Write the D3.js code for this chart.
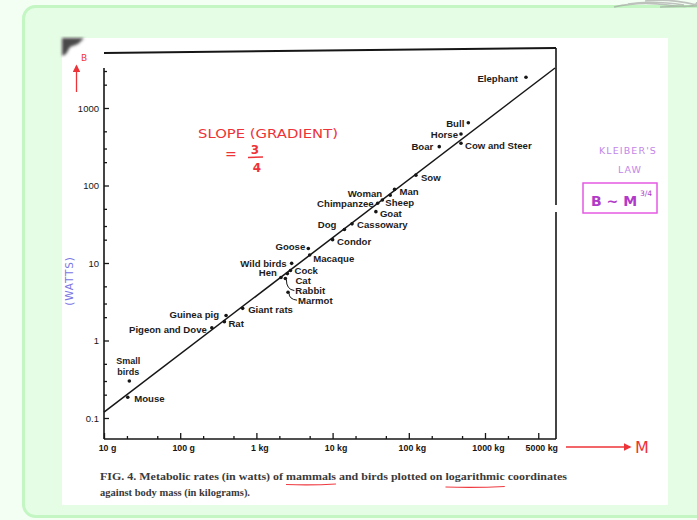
<!DOCTYPE html>
<html>
<head>
<meta charset="utf-8">
<script src="https://cdn.jsdelivr.net/npm/d3@7"></script>
<style>
  html, body { margin: 0; padding: 0; background: #f3fff3; }
  svg { display: block; }
</style>
</head>
<body>
<svg id="chart" width="697" height="520"></svg>
<script>
// Body mass (kg) and metabolic rate (W) for mammals and birds
const species = [
  "Elephant", "Bull", "Horse", "Cow and Steer", "Boar", "Sow", "Man", "Woman",
  "Sheep", "Chimpanzee", "Goat", "Cassowary", "Dog", "Condor", "Goose", "Macaque",
  "Wild birds", "Cock", "Cat", "Hen", "Rabbit", "Marmot", "Giant rats", "Guinea pig",
  "Rat", "Pigeon and Dove", "Small birds", "Mouse"
];
const massKg = [
  3450, 604, 484, 484, 251, 124, 65, 57,
  45, 39, 37, 18, 14.3, 10, 4.8, 5.0,
  2.9, 2.8, 2.55, 2.1, 2.4, 2.6, 0.66, 0.40,
  0.38, 0.26, 0.0215, 0.0205
];
const powerW = [
  2490, 646, 462, 351, 317, 136, 89, 75,
  65, 59, 46, 32, 27, 20, 15.4, 12.7,
  9.9, 8.0, 7.3, 6.5, 6.3, 4.2, 2.6, 2.1,
  1.75, 1.46, 0.30, 0.185
];

// Fitted line B ~ M^(3/4), two end points
const fitMass = [0.01, 8300];
const fitPower = [0.119, 3280];

// Axis ticks
const xTickValues = [0.01, 0.1, 1, 10, 100, 1000, 5000];
const xTickLabels = ["10 g", "100 g", "1 kg", "10 kg", "100 kg", "1000 kg", "5000 kg"];
const xMinorValues = [0.02, 0.05, 0.2, 0.5, 2, 5, 20, 50, 200, 500, 2000];
const yTickValues = [0.1, 1, 10, 100, 1000];
const yTickLabels = ["0.1", "1", "10", "100", "1000"];
const yMinorValues = [0.2, 0.3, 0.5, 2, 3, 5, 20, 30, 50, 200, 300, 500, 2000, 3000];

// Label placement: [anchor, dx, dy, leader]
const labelLayout = {
  "Elephant": ["end", -8, 1],
  "Bull": ["end", -4, 1],
  "Horse": ["end", -3, 0.5],
  "Cow and Steer": ["start", 4, 2],
  "Boar": ["end", -6, 0],
  "Sow": ["start", 5, 2],
  "Man": ["start", 5, 2],
  "Woman": ["end", -8, -2],
  "Sheep": ["start", 3, 2.3],
  "Chimpanzee": ["end", -4, 0],
  "Goat": ["start", 4, 2.2],
  "Cassowary": ["start", 5, 1],
  "Dog": ["end", -8, -5],
  "Condor": ["start", 4.5, 2],
  "Goose": ["end", -3, -1.5],
  "Macaque": ["start", 3.5, 3.5],
  "Wild birds": ["end", -5, 0],
  "Cock": ["start", 4, 0.5],
  "Cat": ["start", 8, 7],
  "Hen": ["end", -4, -4.5],
  "Rabbit": ["start", 10, 12, true],
  "Marmot": ["start", 10, 8, true],
  "Giant rats": ["start", 5.5, 1.5],
  "Guinea pig": ["end", -7, -1],
  "Rat": ["start", 4, 1.5],
  "Pigeon and Dove": ["end", -5, 2],
  "Mouse": ["start", 6.5, 1.5]
};

const svg = d3.select("#chart");

// Page background and rounded panel
svg.append("rect").attr("width", 697).attr("height", 520).attr("fill", "#f3fff3");
svg.append("rect")
  .attr("x", 23.5).attr("y", 6.5).attr("width", 700).attr("height", 510)
  .attr("rx", 12)
  .attr("fill", "#e5fde5").attr("stroke", "#c3f6c3").attr("stroke-width", 3);

const defs = svg.append("defs");
defs.append("filter").attr("id", "soft")
  .append("feGaussianBlur").attr("stdDeviation", 1.4);
defs.append("filter").attr("id", "softer")
  .append("feGaussianBlur").attr("stdDeviation", 0.6);
defs.append("marker").attr("id", "redHead")
  .attr("viewBox", "0 0 10 10").attr("refX", 8).attr("refY", 5)
  .attr("markerWidth", 6).attr("markerHeight", 6).attr("orient", "auto")
  .append("path").attr("d", "M0,0 L10,5 L0,10 Z").attr("fill", "#ee3338");

// Grey scribble at the top right corner
svg.append("g").attr("filter", "url(#softer)").attr("opacity", 0.6)
  .selectAll("path")
  .data([
    "M614,7 Q640,1 668,5 T697,2",
    "M628,4 Q652,0 684,5",
    "M645,1 Q668,-2 697,5",
    "M660,7 L697,6"
  ])
  .join("path")
  .attr("d", d => d).attr("fill", "none").attr("stroke", "#9a9a9a").attr("stroke-width", 1.6);

// Paper sheet
svg.append("rect").attr("x", 62).attr("y", 38).attr("width", 606).attr("height", 467).attr("fill", "#ffffff");
svg.append("path")
  .attr("d", "M62,38 L84,38 L78,44 L70,47 L66,54 L62,56 Z")
  .attr("fill", "#4a4a4a").attr("filter", "url(#soft)");

// Scales
const x = d3.scaleLog().domain([0.01, 1000]).range([104, 485]);
const y = d3.scaleLog().domain([0.1, 1000]).range([418, 108]);

const frameLeft = 104, frameRight = 556, frameBottom = 439;
const ink = "#161616";

// Frame
const frame = svg.append("g").attr("stroke", ink).attr("fill", "none");
frame.append("line").attr("x1", frameLeft).attr("y1", 53).attr("x2", frameRight).attr("y2", 48).attr("stroke-width", 2);
frame.append("line").attr("x1", frameRight).attr("y1", 48).attr("x2", frameRight).attr("y2", 205).attr("stroke-width", 1.6);
frame.append("line").attr("x1", frameRight).attr("y1", 212).attr("x2", frameRight).attr("y2", frameBottom).attr("stroke-width", 1.6);
frame.append("line").attr("x1", frameLeft).attr("y1", 68).attr("x2", frameLeft).attr("y2", frameBottom).attr("stroke-width", 1.6);
frame.append("line").attr("x1", frameLeft).attr("y1", frameBottom).attr("x2", frameRight).attr("y2", frameBottom).attr("stroke-width", 1.6);

// Y axis (ticks pointing inward)
const yAxis = svg.append("g").attr("transform", `translate(${frameLeft},0)`)
  .call(d3.axisLeft(y).tickValues(yTickValues).tickSize(-5).tickPadding(5)
    .tickFormat((d, i) => yTickLabels[i]));
svg.append("g").attr("transform", `translate(${frameLeft},0)`)
  .call(d3.axisLeft(y).tickValues(yMinorValues).tickSize(-3).tickFormat(""))
  .call(g => g.select(".domain").remove());
yAxis.select(".domain").remove();

// X axis (ticks pointing up)
const xAxis = svg.append("g").attr("transform", `translate(0,${frameBottom})`)
  .call(d3.axisBottom(x).tickValues(xTickValues).tickSize(-6).tickPadding(6)
    .tickFormat((d, i) => xTickLabels[i]));
svg.append("g").attr("transform", `translate(0,${frameBottom})`)
  .call(d3.axisBottom(x).tickValues(xMinorValues).tickSize(-3).tickFormat(""))
  .call(g => g.select(".domain").remove());
xAxis.select(".domain").remove();

svg.selectAll(".tick line").attr("stroke", ink).attr("stroke-width", 1.3);
yAxis.selectAll("text")
  .attr("font-family", "Liberation Sans, Arial, sans-serif")
  .attr("font-size", 9.5).attr("fill", ink);
xAxis.selectAll("text")
  .attr("font-family", "Liberation Sans, Arial, sans-serif")
  .attr("font-size", 8.8).attr("font-weight", "bold").attr("fill", ink)
  .attr("dx", 3);

// Fitted line
svg.append("line")
  .attr("x1", x(fitMass[0])).attr("y1", y(fitPower[0]))
  .attr("x2", x(fitMass[1])).attr("y2", y(fitPower[1]))
  .attr("stroke", ink).attr("stroke-width", 1.5);

// Points
const pts = species.map((s, i) => ({ name: s, m: massKg[i], b: powerW[i] }));
svg.append("g").selectAll("circle").data(pts).join("circle")
  .attr("cx", d => x(d.m)).attr("cy", d => y(d.b)).attr("r", 1.8).attr("fill", ink);

// Labels
const labelFont = "Liberation Sans, Arial, sans-serif";
const labels = svg.append("g")
  .attr("font-family", labelFont).attr("font-size", 9.6).attr("font-weight", "bold").attr("fill", "#1c1c1c");

pts.forEach(d => {
  const px = x(d.m), py = y(d.b);
  if (d.name === "Small birds") {
    labels.append("text").attr("x", px - 1).attr("y", py - 20).attr("dy", "0.35em")
      .attr("font-size", 9).attr("text-anchor", "middle").text("Small");
    labels.append("text").attr("x", px - 1).attr("y", py - 9.5).attr("dy", "0.35em")
      .attr("font-size", 9).attr("text-anchor", "middle").text("birds");
    return;
  }
  const [anchor, dx, dy, leader] = labelLayout[d.name];
  labels.append("text")
    .attr("x", px + dx).attr("y", py + dy).attr("dy", "0.35em")
    .attr("text-anchor", anchor).text(d.name);
  if (leader) {
    svg.append("path")
      .attr("d", `M${px + 1},${py + 1} Q${px + 1},${py + dy - 1} ${px + dx - 1},${py + dy}`)
      .attr("fill", "none").attr("stroke", ink).attr("stroke-width", 1);
  }
});

// Caption
const capFont = "Liberation Serif, Times New Roman, serif";
const cap1 = svg.append("text").attr("x", 100).attr("y", 480)
  .attr("font-family", capFont).attr("font-size", 10.5).attr("font-weight", "bold").attr("fill", "#3a3a3a")
  .attr("textLength", 467).attr("lengthAdjust", "spacingAndGlyphs")
  .text("FIG. 4. Metabolic rates (in watts) of mammals and birds plotted on logarithmic coordinates");
svg.append("text").attr("x", 100).attr("y", 496)
  .attr("font-family", capFont).attr("font-size", 10.5).attr("font-weight", "bold").attr("fill", "#3a3a3a")
  .attr("textLength", 150).attr("lengthAdjust", "spacingAndGlyphs")
  .text("against body mass (in kilograms).");

// Red underlines beneath two words of the caption
const capText = cap1.text();
[["mammals", 484.5], ["logarithmic", 487]].forEach(([w, uy]) => {
  const i0 = capText.indexOf(w);
  const node = cap1.node();
  const xs = node.getStartPositionOfChar(i0).x;
  const xe = node.getEndPositionOfChar(i0 + w.length - 1).x;
  svg.append("path")
    .attr("d", `M${xs},${uy} Q${(xs + xe) / 2},${uy + 1} ${xe},${uy - 0.5}`)
    .attr("fill", "none").attr("stroke", "#ee3a40").attr("stroke-width", 1.2);
});

// Handwritten annotations
const hand = "DejaVu Sans, Liberation Sans, sans-serif";
const red = "#ee3338";
svg.append("text").attr("x", 81).attr("y", 61).attr("font-family", hand)
  .attr("font-size", 9).attr("fill", red).text("B");
svg.append("line").attr("x1", 76.5).attr("y1", 92).attr("x2", 76.5).attr("y2", 66)
  .attr("stroke", red).attr("stroke-width", 1.3).attr("marker-end", "url(#redHead)");

svg.append("text").attr("x", 198).attr("y", 138).attr("font-family", hand)
  .attr("font-size", 11.5).attr("fill", red).attr("textLength", 140).attr("lengthAdjust", "spacingAndGlyphs")
  .text("SLOPE (GRADIENT)");
svg.append("text").attr("x", 225).attr("y", 159).attr("font-family", hand)
  .attr("font-size", 14).attr("fill", red).text("=");
svg.append("text").attr("x", 255).attr("y", 154).attr("text-anchor", "middle").attr("font-family", hand)
  .attr("font-size", 12).attr("font-weight", "bold").attr("fill", red).text("3");
svg.append("line").attr("x1", 248).attr("y1", 157.5).attr("x2", 263).attr("y2", 157)
  .attr("stroke", red).attr("stroke-width", 1.6);
svg.append("text").attr("x", 257).attr("y", 172).attr("text-anchor", "middle").attr("font-family", hand)
  .attr("font-size", 12).attr("font-weight", "bold").attr("fill", red).text("4");

svg.append("text")
  .attr("transform", "translate(73,281) rotate(-90)")
  .attr("text-anchor", "middle").attr("font-family", hand)
  .attr("font-size", 10.5).attr("fill", "#7a74e4").attr("letter-spacing", 0.8)
  .text("(WATTS)");

// Bottom right arrow toward M
svg.append("line").attr("x1", 566).attr("y1", 447).attr("x2", 630).attr("y2", 447)
  .attr("stroke", red).attr("stroke-width", 1.3).attr("marker-end", "url(#redHead)");
svg.append("text").attr("x", 635).attr("y", 453).attr("font-family", hand)
  .attr("font-size", 16).attr("fill", red).text("M");

// Kleiber's law note
const purple = "#c286e8";
svg.append("text").attr("x", 628).attr("y", 154).attr("text-anchor", "middle").attr("font-family", hand)
  .attr("font-size", 9.5).attr("fill", purple).attr("letter-spacing", 1.1).text("KLEIBER'S");
svg.append("text").attr("x", 630).attr("y", 173).attr("text-anchor", "middle").attr("font-family", hand)
  .attr("font-size", 9.5).attr("fill", purple).attr("letter-spacing", 1.1).text("LAW");
svg.append("rect").attr("x", 583).attr("y", 183).attr("width", 74).attr("height", 30)
  .attr("fill", "none").attr("stroke", "#e45ae4").attr("stroke-width", 1.5);
svg.append("text").attr("x", 591).attr("y", 206).attr("font-family", hand)
  .attr("font-size", 14).attr("font-weight", "bold").attr("fill", "#b23ac8").text("B ~ M");
svg.append("text").attr("x", 640).attr("y", 196).attr("font-family", hand)
  .attr("font-size", 7.5).attr("fill", "#b23ac8").text("3/4");
</script>
</body>
</html>
